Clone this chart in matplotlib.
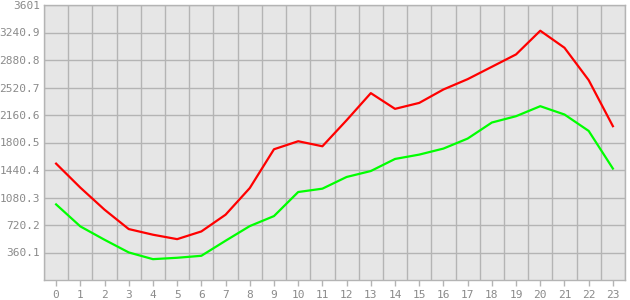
import numpy as np
import matplotlib.pyplot as plt
from matplotlib.ticker import FixedLocator

# =========================
# DATA
# =========================
hours = list(range(24))
red_series = [1524, 1210, 921, 667, 593, 535, 636, 855, 1204, 1712, 1817, 1751,
              2092, 2447, 2241, 2319, 2495, 2630, 2792, 2954, 3264, 3041, 2617, 2014]
green_series = [990, 702, 527, 361, 273, 291, 317, 514, 706, 837, 1152, 1196,
                1349, 1427, 1585, 1642, 1721, 1852, 2062, 2145, 2276, 2167, 1952, 1459]
y_max = 3601
y_ticks = [360.1, 720.2, 1080.3, 1440.4, 1800.5, 2160.6, 2520.7, 2880.8, 3240.9, 3601]
y_labels = ["360.1", "720.2", "1080.3", "1440.4", "1800.5",
            "2160.6", "2520.7", "2880.8", "3240.9", "3601"]

# =========================
# STYLE
# =========================
grid_col = "#b4b4b4"
text_col = "#8a8a8a"
plt.rcParams["font.family"] = ["DejaVu Sans Mono"]

fig = plt.figure(figsize=(6.3, 3.0), dpi=100)
ax = fig.add_axes([44 / 630, 20 / 300, 581 / 630, 275 / 300])
ax.set_facecolor("#e6e6e6")

ax.plot(hours, red_series, color="#ff0000", lw=1.6, zorder=3)
ax.plot(hours, green_series, color="#00ff00", lw=1.6, zorder=3)

ax.set_xlim(-0.5, 23.5)
ax.set_ylim(0, y_max)

ax.set_xticks(hours)
ax.set_xticklabels([str(h) for h in hours])
ax.xaxis.set_minor_locator(FixedLocator(np.arange(-0.5, 24, 1)))
ax.set_yticks(y_ticks)
ax.set_yticklabels(y_labels)

ax.grid(which="minor", axis="x", color=grid_col, lw=1.0)
ax.grid(which="major", axis="y", color=grid_col, lw=1.0)
ax.set_axisbelow(True)

ax.tick_params(axis="x", which="major", length=4, width=1, color=grid_col,
               labelsize=8, labelcolor=text_col, pad=3)
ax.tick_params(axis="x", which="minor", length=0)
ax.tick_params(axis="y", length=0, labelsize=8, labelcolor=text_col, pad=3)

for side in ["left", "bottom", "top", "right"]:
    ax.spines[side].set_color(grid_col)
    ax.spines[side].set_linewidth(1.0)

fig.savefig("out.png", dpi=100)
